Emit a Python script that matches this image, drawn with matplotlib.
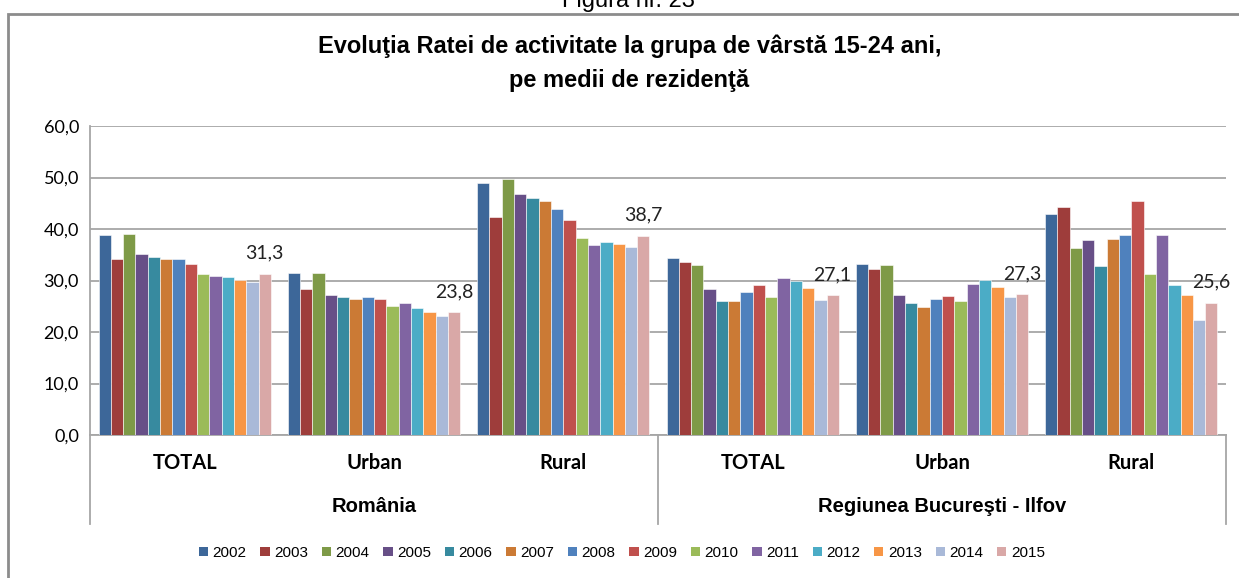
import matplotlib
matplotlib.use("Agg")
import matplotlib.pyplot as plt
from matplotlib.lines import Line2D
from matplotlib.patches import Rectangle, Patch
import numpy as np

years = ['2002', '2003', '2004', '2005', '2006', '2007', '2008',
         '2009', '2010', '2011', '2012', '2013', '2014', '2015']
categories = ['TOTAL', 'Urban', 'Rural', 'TOTAL', 'Urban', 'Rural']
regions = ['România', 'Regiunea Bucureşti - Ilfov']

# values per category, one entry per year
ro_total = [38.8, 34.2, 39.0, 35.1, 34.6, 34.2, 34.2, 33.3, 31.3, 30.8, 30.6, 30.1, 29.7, 31.3]
ro_urban = [31.5, 28.3, 31.5, 27.2, 26.7, 26.5, 26.7, 26.5, 25.1, 25.6, 24.7, 23.8, 23.1, 23.8]
ro_rural = [48.9, 42.3, 49.7, 46.8, 46.1, 45.4, 43.8, 41.7, 38.3, 36.8, 37.4, 37.0, 36.5, 38.7]
bi_total = [34.4, 33.5, 33.1, 28.3, 26.0, 26.0, 27.7, 29.1, 26.7, 30.4, 30.0, 28.5, 26.3, 27.1]
bi_urban = [33.3, 32.2, 33.0, 27.2, 25.6, 24.9, 26.5, 26.9, 26.0, 29.3, 30.1, 28.7, 26.7, 27.3]
bi_rural = [42.9, 44.2, 36.3, 37.9, 32.9, 38.1, 38.8, 45.4, 31.3, 38.8, 29.2, 27.2, 22.4, 25.6]

colors = ['#3D6799', '#9E3D3B', '#7E9A47', '#674F87', '#378A9F', '#CB7A35', '#4F81BD',
          '#C0504D', '#9BBB59', '#8064A2', '#4BACC6', '#F79646', '#A9B9D8', '#D9A8A7']

data = np.array([ro_total, ro_urban, ro_rural, bi_total, bi_urban, bi_rural])
arial = ['Liberation Sans', 'DejaVu Sans']

fig = plt.figure(figsize=(12.39, 5.78), dpi=100)
ax = fig.add_axes([90/1239, 1-435/578, (1226-90)/1239, 309/578])

w = 0.065
x = np.arange(len(categories))
for i, yr in enumerate(years):
    ax.bar(x + (i - 6.5) * w, data[:, i], w, color=colors[i],
           edgecolor='white', linewidth=0.4, label=yr, zorder=3)

# labels over the 2015 bars
for j in range(len(categories)):
    v = data[j, -1]
    ax.annotate(f'{v:.1f}'.replace('.', ','), (x[j] + 6.5 * w, v),
                xytext=(0, 9), textcoords='offset points', ha='center', va='bottom',
                fontsize=14, family='Lato', color='#222222')

ax.set_xlim(-0.5, 5.5)
ax.set_ylim(0, 60)
ax.set_yticks(range(0, 61, 10))
ax.set_yticklabels([f'{t},0' for t in range(0, 61, 10)], family='Lato', fontsize=13)
ax.tick_params(axis='y', length=0, pad=8)
ax.set_xticks([])
ax.yaxis.grid(True, color='#A6A6A6', linewidth=1.3, zorder=0)
for s in ['top', 'right']:
    ax.spines[s].set_visible(False)
ax.spines['left'].set_color('#A6A6A6')
ax.spines['bottom'].set_color('#A6A6A6')
ax.spines['left'].set_linewidth(1.3)
ax.spines['bottom'].set_linewidth(1.3)

tr = ax.get_xaxis_transform()
for xv in [-0.5, 2.5, 5.5]:
    ax.add_line(Line2D([xv, xv], [0, -89/309], transform=tr, color='#A6A6A6',
                       linewidth=1.3, clip_on=False))
for j, c in enumerate(categories):
    ax.text(x[j], -28/309, c, transform=tr, ha='center', va='center',
            fontsize=14.5, fontweight='bold', family='Lato')
for k, r in enumerate(regions):
    ax.text(1 + 3 * k, -72/309, r, transform=tr, ha='center', va='center',
            fontsize=14.5, fontweight='bold', family=arial)

fig.text(0.508, 1 - 46/578, 'Evoluţia Ratei de activitate la grupa de vârstă 15-24 ani,',
         ha='center', va='center', fontsize=17, fontweight='bold', family=arial)
fig.text(0.508, 1 - 80/578, 'pe medii de rezidenţă',
         ha='center', va='center', fontsize=17, fontweight='bold', family=arial)
fig.text(0.507, 1 - 1/578, 'Figura nr. 23', ha='center', va='center', fontsize=17,
         family=arial)

fig.patches.append(Rectangle((8/1239, -0.05), 1.2, 1.05 - 14/578, transform=fig.transFigure,
                             fill=False, edgecolor='#8C8C8C', linewidth=2, figure=fig))

handles = [Patch(facecolor=c, label=y) for c, y in zip(colors, years)]
fig.legend(handles=handles, loc='center', bbox_to_anchor=(0.502, 1 - 553/578), ncol=14,
           frameon=False, handlelength=0.6, handleheight=0.6, handletextpad=0.3,
           columnspacing=0.9, prop={'family': arial, 'size': 11})

fig.savefig('out.png', dpi=100)
